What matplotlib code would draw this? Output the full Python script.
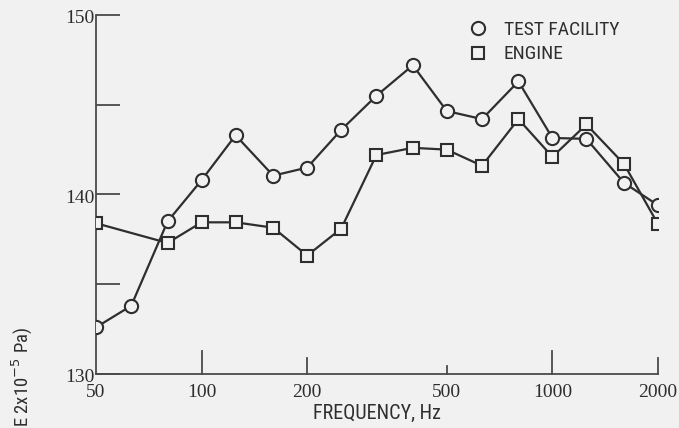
import numpy as np
import matplotlib
matplotlib.use("Agg")
import matplotlib.pyplot as plt
import matplotlib.transforms as mtransforms
from matplotlib import font_manager
from matplotlib.font_manager import FontProperties

# ---- data ----
freq_test = [50, 63, 80, 100, 125, 160, 200, 250, 315, 400, 500, 630, 800, 1000, 1250, 1600, 2000]
level_test = [132.6, 133.8, 138.5, 140.8, 143.3, 141.05, 141.5, 143.6, 145.5, 147.2, 144.65, 144.2, 146.3, 143.15, 143.1, 140.65, 139.4]

freq_engine = [50, 80, 100, 125, 160, 200, 250, 315, 400, 500, 630, 800, 1000, 1250, 1600, 2000]
level_engine = [138.4, 137.3, 138.45, 138.45, 138.15, 136.6, 138.1, 142.2, 142.6, 142.5, 141.6, 144.2, 142.1, 143.9, 141.7, 138.35]

xticks = [50, 100, 200, 500, 1000, 2000]
xtick_labels = ["50", "100", "200", "500", "1000", "2000"]
yticks = [130, 135, 140, 145, 150]
ytick_labels = ["130", "", "140", "", "150"]


def narrow_path():
    files = [f.fname for f in font_manager.fontManager.ttflist]
    prefs = ["LiberationSansNarrow-Regular", "RobotoCondensed-Regular", "DejaVuSansCondensed.ttf",
             "OpenSans_Condensed-Regular", "OpenSansCondensed", "Narrow", "Condensed"]
    for p in prefs:
        for fn in files:
            base = fn.split("/")[-1]
            if p in base and not any(k in base for k in ("Bold", "Italic", "Oblique", "Light", "Thin", "Black")):
                return fn
    return None


np_path = narrow_path()


def nfont(size):
    if np_path:
        return FontProperties(fname=np_path, size=size)
    return FontProperties(family="DejaVu Sans", size=size)


serif = "Liberation Serif"

bg = "#f1f1f1"
ink = "#2e2e2e"
axc = "#4a4a4a"

fig = plt.figure(figsize=(6.79, 4.28), dpi=100, facecolor=bg)
ax = fig.add_axes([96/679, 1-374/428, (658-96)/679, (374-15)/428])
ax.set_facecolor(bg)

ax.plot(freq_test, level_test, color=ink, lw=1.6, marker="o", ms=9.5,
        mfc=bg, mec=ink, mew=1.5, label="TEST FACILITY", zorder=3)
ax.plot(freq_engine, level_engine, color=ink, lw=1.6, marker="s", ms=9,
        mfc=bg, mec=ink, mew=1.5, label="ENGINE", zorder=3)

ax.set_xscale("log")
ax.set_xlim(50, 2000)
ax.set_ylim(130, 150)
ax.minorticks_off()

for s in ["top", "right"]:
    ax.spines[s].set_visible(False)
for s in ["left", "bottom"]:
    ax.spines[s].set_color(axc)
    ax.spines[s].set_linewidth(1.3)

ax.set_yticks(yticks)
ax.set_yticklabels(ytick_labels, fontfamily=serif, fontsize=14, color=ink)
ax.tick_params(axis="y", direction="in", length=17, width=1.3, color=axc, pad=1)
shift = mtransforms.ScaledTranslation(0, -4/100, fig.dpi_scale_trans)
for lab in ax.get_yticklabels():
    lab.set_verticalalignment("center")
    lab.set_transform(lab.get_transform() + shift)

ax.set_xticks(xticks)
ax.set_xticklabels(xtick_labels, fontfamily=serif, fontsize=14, color=ink)
ax.tick_params(axis="x", direction="in", length=0, width=1.3, color=axc, pad=7)
# varying inward tick lengths on x axis
tick_len = {100: 1.28, 200: 0.9, 500: 0.45, 1000: 1.28, 2000: 0.9}
for f, L in tick_len.items():
    ax.plot([f, f], [130, 130 + L], color=axc, lw=1.3, clip_on=False, zorder=2)

ax.set_xlabel("FREQUENCY, Hz", fontproperties=nfont(14.5), color=ink, labelpad=2)

fig.text(22/679, 1-327/428, "E 2x10$^{-5}$ Pa)",
         rotation=90, ha="center", va="top", fontproperties=nfont(13.5), color=ink)

leg = ax.legend(loc="upper left", bbox_to_anchor=(455/679, 1-3/428), bbox_transform=fig.transFigure,
                frameon=False, handlelength=0.6, handletextpad=1.0, labelspacing=0.35,
                prop=nfont(14))
for h in leg.legend_handles:
    h.set_linestyle("none")
for t in leg.get_texts():
    t.set_color(ink)

fig.savefig("out.png", dpi=100, facecolor=bg)
